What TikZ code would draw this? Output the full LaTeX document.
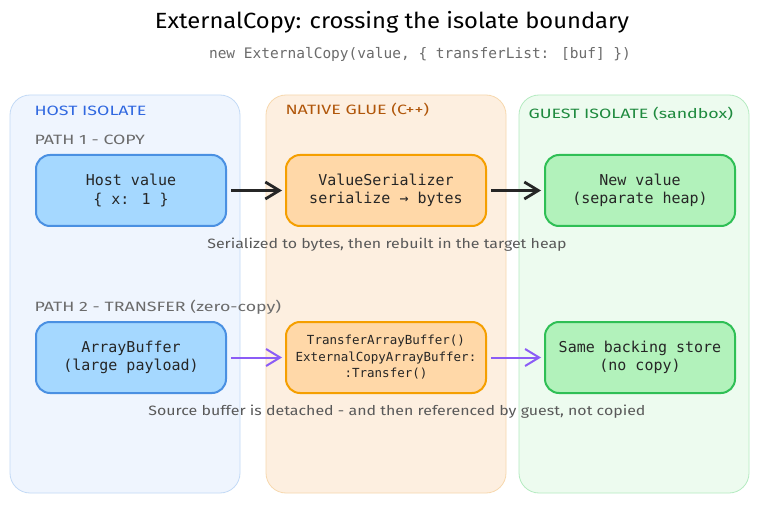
\documentclass[tikz,border=0pt]{standalone}
\usepackage{fontspec}
\setmainfont{Liberation Sans}
\newfontfamily\handfont{Fira Sans}
\newfontfamily\handwide[FakeStretch=1.32]{Fira Sans}
\newfontfamily\handcap[FakeStretch=1.18]{Fira Sans}
\newfontfamily\handtitle[FakeStretch=1.08]{Fira Sans}
\newfontfamily\monofont{DejaVu Sans Mono}
\usetikzlibrary{arrows.meta}
\definecolor{hostfill}{HTML}{EFF5FE}
\definecolor{hostline}{HTML}{C3DAF6}
\definecolor{gluefill}{HTML}{FDEFE0}
\definecolor{glueline}{HTML}{F7D8AE}
\definecolor{guestfill}{HTML}{EDFBEF}
\definecolor{guestline}{HTML}{B5EBC1}
\definecolor{bluefill}{HTML}{A5D8FF}
\definecolor{blueline}{HTML}{4A90E2}
\definecolor{orfill}{HTML}{FFD8A8}
\definecolor{orline}{HTML}{F59F00}
\definecolor{grfill}{HTML}{B2F2BB}
\definecolor{grline}{HTML}{2FBF55}
\definecolor{hostlab}{HTML}{3068E0}
\definecolor{gluelab}{HTML}{B0560A}
\definecolor{guestlab}{HTML}{1E8A3E}
\definecolor{greytxt}{HTML}{6B6B6B}
\definecolor{purp}{HTML}{8B5CF6}
\tikzset{
  zone/.style={rounded corners=20pt, line width=0.8pt},
  card/.style={rounded corners=14pt, line width=2pt, draw},
  cardtxt/.style={align=center, font=\monofont\fontsize{15}{18.5}\selectfont, text=black!85},
  zlabel/.style={anchor=west, font=\handwide\fontsize{13.5}{15}\selectfont},
  plabel/.style={anchor=west, font=\handwide\fontsize{13.5}{15}\selectfont, text=greytxt},
  caption/.style={font=\handcap\fontsize{13.5}{15}\selectfont, text=black!65},
  flow/.style={line width=2pt, -{Straight Barb[length=14pt,width=17pt,line width=2pt]}},
  flowbold/.style={line width=2.8pt, -{Straight Barb[length=14pt,width=17pt,line width=2.8pt]}},
}
\begin{document}
\begin{tikzpicture}[x=1pt,y=-1pt]
\useasboundingbox (0,0) rectangle (758,505);
\fill[white] (0,0) rectangle (758,505);
% zones
\draw[zone, fill=hostfill, draw=hostline] (10,95) rectangle (240,493);
\draw[zone, fill=gluefill, draw=glueline] (266,95) rectangle (506,493);
\draw[zone, fill=guestfill, draw=guestline] (519,95) rectangle (749,493);
% title
\node[font=\handtitle\fontsize{22}{25}\selectfont] (title) at (392,22) {ExternalCopy: crossing the isolate boundary};
\node[font=\monofont\fontsize{14.5}{17}\selectfont, text=greytxt] (sub) at (420,54) {new ExternalCopy(value, \{ transferList: [buf] \})};
% zone labels
\node[zlabel, text=hostlab] (lhost) at (31,111) {HOST ISOLATE};
\node[zlabel, text=gluelab] (lglue) at (282,110) {NATIVE GLUE (C++)};
\node[zlabel, text=guestlab] (lguest) at (525,114) {GUEST ISOLATE (sandbox)};
\node[plabel] (p1) at (31,140) {PATH 1 - COPY};
\node[plabel] (p2) at (31,307) {PATH 2 - TRANSFER (zero-copy)};
% cards row 1
\node[card, fill=bluefill, draw=blueline, minimum width=190pt, minimum height=71pt, cardtxt] (hv) at (131,190.5) {Host value\\\{ x: 1 \}};
\node[card, fill=orfill, draw=orline, minimum width=200pt, minimum height=71pt, cardtxt] (vs) at (386,190.5) {ValueSerializer\\serialize → bytes};
\node[card, fill=grfill, draw=grline, minimum width=190pt, minimum height=71pt, cardtxt] (nv) at (640,190.5) {New value\\(separate heap)};
% cards row 2
\node[card, fill=bluefill, draw=blueline, minimum width=190pt, minimum height=71pt, cardtxt] (ab) at (131,357.5) {ArrayBuffer\\(large payload)};
\node[card, fill=orfill, draw=orline, minimum width=200pt, minimum height=71pt, align=center, font=\monofont\fontsize{12.5}{16.5}\selectfont, text=black!85] (tr) at (386,357.5) {TransferArrayBuffer()\\ExternalCopyArrayBuffer:\\:Transfer()};
\node[card, fill=grfill, draw=grline, minimum width=190pt, minimum height=71pt, cardtxt] (sb) at (640,357.5) {Same backing store\\(no copy)};
% arrows
\draw[flowbold, draw=black!85] ([xshift=4pt]hv.east) -- ([xshift=-3pt]vs.west);
\draw[flowbold, draw=black!85] ([xshift=4pt]vs.east) -- ([xshift=-3pt]nv.west);
\draw[flow, draw=purp] ([xshift=4pt]ab.east) -- ([xshift=-3pt]tr.west);
\draw[flow, draw=purp] ([xshift=4pt]tr.east) -- ([xshift=-3pt]sb.west);
% captions
\node[caption] (c1) at (387,245) {Serialized to bytes, then rebuilt in the target heap};
\node[caption] (c2) at (397,412) {Source buffer is detached - and then referenced by guest, not copied};
\end{tikzpicture}
\end{document}
